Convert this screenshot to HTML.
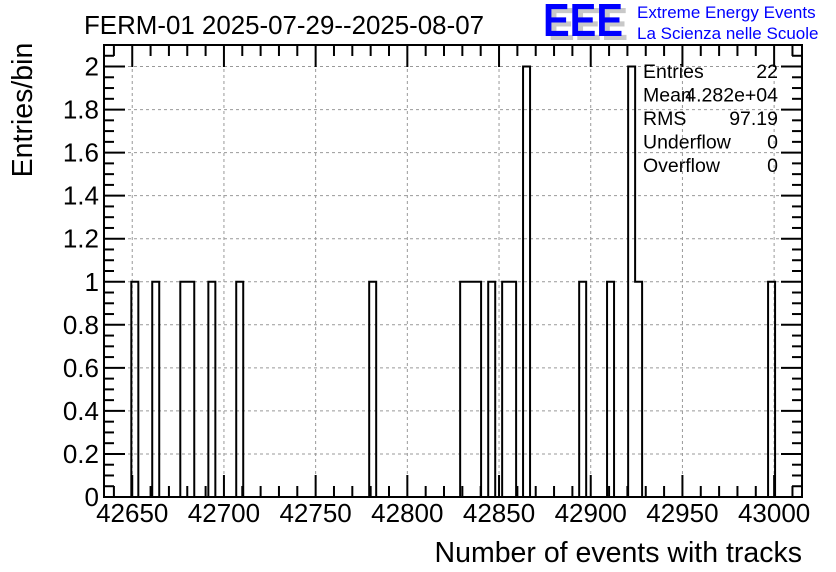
<!DOCTYPE html>
<html><head><meta charset="utf-8"><style>
html,body{margin:0;padding:0;background:#fff;}
svg{display:block;font-family:"Liberation Sans",sans-serif;}
</style></head><body>
<svg id="chart" width="836" height="572" viewBox="0 0 836 572">
<rect x="0" y="0" width="836" height="572" fill="#fff"/>
<g id="grid"></g>
<g id="bars"></g>
<g id="axes"></g>
<text x="84" y="34" font-size="26" fill="#000" textLength="400" lengthAdjust="spacingAndGlyphs">FERM-01 2025-07-29--2025-08-07</text>
<text transform="translate(32,110) rotate(-90)" text-anchor="middle" font-size="28.5" fill="#000">Entries/bin</text>
<text x="802" y="562" text-anchor="end" font-size="28.5" fill="#000">Number of events with tracks</text>
<g>
<text x="548" y="40" font-size="46" font-weight="bold" fill="#c8c8c8" textLength="80" lengthAdjust="spacingAndGlyphs">EEE</text>
<text x="543" y="36" font-size="46" font-weight="bold" fill="#0000ff" textLength="80" lengthAdjust="spacingAndGlyphs">EEE</text>
<text x="637" y="18" font-size="17" fill="#0000ff">Extreme Energy Events</text>
<text x="637" y="39" font-size="17" fill="#0000ff">La Scienza nelle Scuole</text>
</g>
<g id="stats" font-size="19.5" fill="#000"></g>
</svg>
<script>
const binStarts = [42649.5,42660.9,42676.2,42680.0,42691.5,42706.7,42779.2,42828.8,42832.6,42836.4,42844.1,42851.7,42855.5,42863.1,42893.7,42908.9,42920.4,42924.2,42996.7];
const counts    = [1,1,1,1,1,1,1,1,1,1,1,1,1,2,1,1,2,1,1];
const binWidth = 3.815;
const xTicks = [42650,42700,42750,42800,42850,42900,42950,43000];
const yTicks = [0,0.2,0.4,0.6,0.8,1,1.2,1.4,1.6,1.8,2];
const yTickLabels = ["0","0.2","0.4","0.6","0.8","1","1.2","1.4","1.6","1.8","2"];
const statNames = ["Entries","Mean","RMS","Underflow","Overflow"];
const statValues = ["22","4.282e+04","97.19","0","0"];

const L=104,R=802,T=45,B=497, XMIN=42634.6, XMAX=43015.2, YMAX=2.1;
const xs=v=>L+(v-XMIN)*(R-L)/(XMAX-XMIN);
const ys=v=>B-v*(B-T)/YMAX;
const NS="http://www.w3.org/2000/svg";
function mk(tag,attrs,parent){const e=document.createElementNS(NS,tag);for(const k in attrs)e.setAttribute(k,attrs[k]);parent.appendChild(e);return e;}
const grid=document.getElementById('grid'),bars=document.getElementById('bars'),axes=document.getElementById('axes'),stats=document.getElementById('stats');
xTicks.forEach(v=>{const l=mk('line',{x1:xs(v),x2:xs(v),y1:T,y2:B,stroke:'#999','stroke-dasharray':'3,3','stroke-width':1},grid);

});
yTicks.forEach(v=>{if(v===0)return;const l=mk('line',{x1:L,x2:R,y1:ys(v),y2:ys(v),stroke:'#999','stroke-dasharray':'3,3','stroke-width':1},grid);

});
const sorted=binStarts.map((s,i)=>[s,counts[i]]).sort((a,b)=>a[0]-b[0]);
let d='M'+L+','+B;let prevEnd=null;
sorted.forEach(([s,c])=>{const x0=xs(s),x1=xs(s+binWidth);
 if(prevEnd!==null && Math.abs(prevEnd-x0)<0.8){d+=' L'+x0+','+ys(c);}
 else{d+=' L'+x0+','+B+' L'+x0+','+ys(c);}
 d+=' L'+x1+','+ys(c);prevEnd=x1;
 const nxt=sorted.find(q=>Math.abs(xs(q[0])-x1)<0.8);
 if(!nxt)d+=' L'+x1+','+B;});
d+=' L'+R+','+B;
const p=mk('path',{d:d,fill:'none',stroke:'#000','stroke-width':2},bars);


const f=mk('rect',{x:L,y:T,width:R-L,height:B-T,fill:'none',stroke:'#000','stroke-width':2},axes);


for(let v=42640;v<=43010;v+=10){const maj=(v%50===0);const len=maj?22:11;
 mk('line',{x1:xs(v),x2:xs(v),y1:B,y2:B-len,stroke:'#000','stroke-width':2},axes);
 mk('line',{x1:xs(v),x2:xs(v),y1:T,y2:T+len,stroke:'#000','stroke-width':2},axes);}
xTicks.forEach(v=>{const t=mk('text',{x:xs(v),y:522,'text-anchor':'middle','font-size':26},axes);t.textContent=String(v);

});
for(let i=0;i<=42;i++){const v=i*0.05;const maj=(i%4===0);const len=maj?21:10;
 mk('line',{x1:L,x2:L+len,y1:ys(v),y2:ys(v),stroke:'#000','stroke-width':2},axes);
 mk('line',{x1:R,x2:R-len,y1:ys(v),y2:ys(v),stroke:'#000','stroke-width':2},axes);}
yTicks.forEach((v,i)=>{const t=mk('text',{x:99,y:ys(v)+9,'text-anchor':'end','font-size':26},axes);t.textContent=yTickLabels[i];

});
statNames.forEach((n,i)=>{const y=78+i*23.5;
 const a=mk('text',{x:643,y:y},stats);a.textContent=n;
 
 
 const b=mk('text',{x:778,y:y,'text-anchor':'end'},stats);b.textContent=statValues[i];
 
 });
</script>
</body></html>
